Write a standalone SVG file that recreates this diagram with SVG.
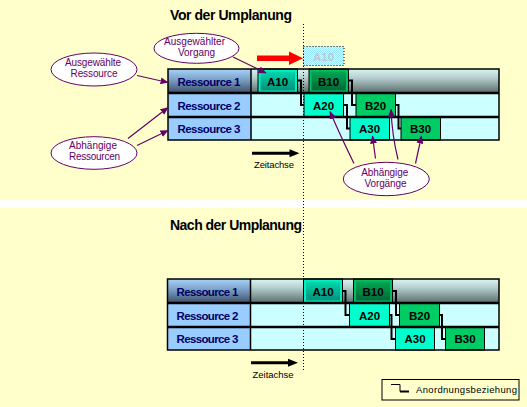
<svg xmlns="http://www.w3.org/2000/svg" width="527" height="407" viewBox="0 0 527 407">
<defs>
<linearGradient id="gRow1" x1="0" y1="0" x2="0" y2="1">
<stop offset="0" stop-color="#D6F6F2"/>
<stop offset="0.35" stop-color="#B8D0D0"/>
<stop offset="1" stop-color="#5A6C6C"/>
</linearGradient>
<linearGradient id="gLab1" x1="0" y1="0" x2="0" y2="1">
<stop offset="0" stop-color="#A6D2FA"/>
<stop offset="0.4" stop-color="#7FA6CC"/>
<stop offset="1" stop-color="#3E4E68"/>
</linearGradient>
<linearGradient id="gA1" x1="0" y1="0" x2="0" y2="1">
<stop offset="0" stop-color="#00D8AC"/>
<stop offset="1" stop-color="#00907A"/>
</linearGradient>
<linearGradient id="gB1" x1="0" y1="0" x2="0" y2="1">
<stop offset="0" stop-color="#00A855"/>
<stop offset="1" stop-color="#006638"/>
</linearGradient>
<pattern id="dither" width="2" height="2" patternUnits="userSpaceOnUse">
<rect width="2" height="2" fill="#CCFFFF"/>
<rect width="1" height="1" fill="#99E6FF"/>
<rect x="1" y="1" width="1" height="1" fill="#99E6FF"/>
</pattern>
<marker id="pa" markerWidth="8" markerHeight="7" refX="7.5" refY="3.5" orient="auto" markerUnits="userSpaceOnUse">
<path d="M0,0 L8,3.5 L0,7 z" fill="#660066"/>
</marker>
</defs>
<style>
text{font-family:"Liberation Sans",Arial,sans-serif}
.title{font-size:14px;font-weight:bold;fill:#000}
.res{font-size:11.5px;font-weight:bold;fill:#000066;text-anchor:middle}
.task{font-size:11.5px;font-weight:bold;fill:#000;text-anchor:middle}
.call{font-size:10px;fill:#660066;text-anchor:middle}
.small{font-size:9.5px;fill:#000}
.cell{stroke:#000;stroke-width:1}
.a{fill:#00FFCC}
.b{fill:#00CC66}
.sep{stroke:#000;stroke-width:2.5}
.ell{fill:#fff;stroke:#660066;stroke-width:1}
.step{fill:none;stroke:#000;stroke-width:2}
.pl{fill:none;stroke:#660066;stroke-width:1.2;marker-end:url(#pa)}
</style>
<rect width="527" height="407" fill="#FFFFCC"/>
<rect x="0" y="200" width="527" height="8" fill="#FFFFFF"/>

<g id="title-vor"><text class="title" x="170" y="20" textLength="122" lengthAdjust="spacing">Vor der Umplanung</text></g>
<g id="title-nach"><text class="title" x="170" y="229.5" textLength="132" lengthAdjust="spacing">Nach der Umplanung</text></g>

<!-- TOP TABLE -->
<g id="top-table">
<rect x="251" y="69" width="248" height="24" fill="url(#gRow1)"/>
<rect x="251" y="93" width="248" height="24" fill="#CCFFFF"/>
<rect x="251" y="117" width="248" height="23" fill="#CCFFFF"/>
<rect x="168" y="69" width="83" height="24" fill="url(#gLab1)"/>
<rect x="168" y="93" width="83" height="24" fill="#99CCFF"/>
<rect x="168" y="117" width="83" height="23" fill="#99CCFF"/>
<line x1="251" y1="69" x2="251" y2="140" stroke="#000" stroke-width="1.5"/>
</g>
<g id="top-res1"><text class="res" x="209" y="85.5" textLength="63" lengthAdjust="spacing">Ressource 1</text></g>
<g id="top-res2"><text class="res" x="209" y="109.5" textLength="63" lengthAdjust="spacing">Ressource 2</text></g>
<g id="top-res3"><text class="res" x="209" y="133" textLength="63" lengthAdjust="spacing">Ressource 3</text></g>

<g id="top-A10"><rect class="cell" x="258" y="69" width="39.5" height="24" fill="#00F0C4"/><rect x="260.5" y="71.5" width="34.5" height="19" fill="url(#gA1)"/><text class="task" x="277.5" y="85.5">A10</text></g>
<g id="top-B10"><rect class="cell" x="309" y="69" width="39.5" height="24" fill="#00C060"/><rect x="311.5" y="71.5" width="34.5" height="19" fill="url(#gB1)"/><text class="task" x="328.5" y="85.5">B10</text></g>
<g id="top-A20"><rect class="cell a" x="304" y="93" width="39.5" height="24"/><text class="task" x="323.5" y="109.5">A20</text></g>
<g id="top-B20"><rect class="cell b" x="356" y="93" width="39.5" height="24"/><text class="task" x="375.5" y="109.5">B20</text></g>
<g id="top-A30"><rect class="cell a" x="350" y="117" width="39.5" height="23"/><text class="task" x="369.5" y="133">A30</text></g>
<g id="top-B30"><rect class="cell b" x="401" y="117" width="39.5" height="23"/><text class="task" x="420.5" y="133">B30</text></g>

<g id="top-grid">
<rect x="168" y="69" width="331" height="71" fill="none" stroke="#000" stroke-width="1.5"/>
<line class="sep" x1="168" y1="93" x2="499" y2="93"/>
<line class="sep" x1="168" y1="117" x2="499" y2="117"/>
</g>

<g id="ghost-A10">
<rect x="303.5" y="46.5" width="40.5" height="19" fill="url(#dither)" stroke="#000" stroke-width="1" stroke-dasharray="1,2"/>
<text class="task" x="323.5" y="60.5" style="fill:#BCC8CC">A10</text>
</g>

<!-- BOTTOM TABLE -->
<g id="bot-table">
<rect x="250.5" y="279" width="248.5" height="24" fill="url(#gRow1)"/>
<rect x="250.5" y="303" width="248.5" height="24" fill="#CCFFFF"/>
<rect x="250.5" y="327" width="248.5" height="23" fill="#CCFFFF"/>
<rect x="167.5" y="279" width="83" height="24" fill="url(#gLab1)"/>
<rect x="167.5" y="303" width="83" height="24" fill="#99CCFF"/>
<rect x="167.5" y="327" width="83" height="23" fill="#99CCFF"/>
<line x1="250.5" y1="279" x2="250.5" y2="350" stroke="#000" stroke-width="1.5"/>
</g>
<g id="bot-res1"><text class="res" x="207.5" y="295.5" textLength="62" lengthAdjust="spacing">Ressource 1</text></g>
<g id="bot-res2"><text class="res" x="207.5" y="319.5" textLength="62" lengthAdjust="spacing">Ressource 2</text></g>
<g id="bot-res3"><text class="res" x="207.5" y="343" textLength="62" lengthAdjust="spacing">Ressource 3</text></g>

<g id="bot-A10"><rect class="cell" x="303.5" y="279" width="39" height="24" fill="#00F0C4"/><rect x="306" y="281.5" width="34" height="19" fill="url(#gA1)"/><text class="task" x="323" y="295.5">A10</text></g>
<g id="bot-B10"><rect class="cell" x="353.5" y="279" width="39" height="24" fill="#00C060"/><rect x="356" y="281.5" width="34" height="19" fill="url(#gB1)"/><text class="task" x="373" y="295.5">B10</text></g>
<g id="bot-A20"><rect class="cell a" x="349.5" y="303" width="40" height="24"/><text class="task" x="369.5" y="319.5">A20</text></g>
<g id="bot-B20"><rect class="cell b" x="399.5" y="303" width="40" height="24"/><text class="task" x="419.5" y="319.5">B20</text></g>
<g id="bot-A30"><rect class="cell a" x="395.5" y="327" width="39" height="23"/><text class="task" x="415" y="343">A30</text></g>
<g id="bot-B30"><rect class="cell b" x="445.5" y="327" width="39" height="23"/><text class="task" x="465" y="343">B30</text></g>

<g id="bot-grid">
<rect x="167.5" y="279" width="331.5" height="71" fill="none" stroke="#000" stroke-width="1.5"/>
<line class="sep" x1="167.5" y1="303" x2="499" y2="303"/>
<line class="sep" x1="167.5" y1="327" x2="499" y2="327"/>
</g>

<!-- callouts -->
<g id="callout-ressource">
<ellipse class="ell" cx="94" cy="69.5" rx="43" ry="16.5"/>
<text class="call" x="93" y="65.5" textLength="56" lengthAdjust="spacing">Ausgewählte</text>
<text class="call" x="94" y="77" textLength="47" lengthAdjust="spacing">Ressource</text>
</g>
<g id="callout-vorgang">
<ellipse class="ell" cx="196.5" cy="48.3" rx="42.5" ry="15"/>
<text class="call" x="194.5" y="45" textLength="61" lengthAdjust="spacing">Ausgewählter</text>
<text class="call" x="196.5" y="55.5" textLength="37" lengthAdjust="spacing">Vorgang</text>
</g>
<g id="callout-abh-res">
<ellipse class="ell" cx="94" cy="153" rx="43" ry="16.3"/>
<text class="call" x="93" y="148.5" textLength="48" lengthAdjust="spacing">Abhängige</text>
<text class="call" x="94.5" y="159.5" textLength="51" lengthAdjust="spacing">Ressourcen</text>
</g>
<g id="callout-abh-vorg">
<ellipse class="ell" cx="386.3" cy="179" rx="43" ry="16.7"/>
<text class="call" x="384.7" y="176" textLength="47" lengthAdjust="spacing">Abhängige</text>
<text class="call" x="385.5" y="186.5" textLength="42" lengthAdjust="spacing">Vorgänge</text>
</g>

<g id="legend">
<rect x="382" y="379.5" width="137" height="20.5" fill="#FFFFCC" stroke="#000" stroke-width="1"/>
<path d="M391,384.5 H400 V391.5 H409" fill="none" stroke="#000" stroke-width="1"/>
<line x1="400" y1="391.5" x2="409" y2="391.5" stroke="#000" stroke-width="2"/>
<text class="small" x="416" y="392.5" textLength="101" lengthAdjust="spacing">Anordnungsbeziehung</text>
</g>

<g id="axis-labels">
<text class="small" x="254" y="167.5" textLength="40" lengthAdjust="spacing">Zeitachse</text>
<text class="small" x="252.5" y="377.5" textLength="41" lengthAdjust="spacing">Zeitachse</text>
</g>

<g id="connectors">
<!-- step connectors top -->
<path class="step" d="M297.5,80.5 H301 V105 H304"/>
<path class="step" d="M348.5,80.5 H352 V105 H356"/>
<path class="step" d="M343.5,105 H347 V128.5 H350"/>
<path class="step" d="M395.5,105 H398.5 V128.5 H401"/>
<!-- step connectors bottom -->
<path class="step" d="M342.5,291 H345.5 V315 H349.5"/>
<path class="step" d="M392.5,291 H396 V315 H399.5"/>
<path class="step" d="M389.5,315 H391.5 V339 H395.5"/>
<path class="step" d="M439.5,315 H442 V339 H445.5"/>
<!-- callout arrows -->
<path class="pl" d="M137,75.5 L168,82.5"/>
<path class="pl" d="M233,57 L266,73"/>
<path class="pl" d="M128,138.5 L168,107.5"/>
<path class="pl" d="M137,145.5 L168,130.5"/>
<path class="pl" d="M354,163.5 Q340,135 330,111.5"/>
<path class="pl" d="M375.5,158.5 L372.5,136"/>
<path class="pl" d="M398,159.5 Q392,135 391,109.5"/>
<path class="pl" d="M415.5,163.5 L421.5,136"/>
<!-- red arrow -->
<rect x="257" y="55.5" width="33" height="5.5" fill="#FF0000"/>
<polygon points="289,51.5 303,58.3 289,65" fill="#FF0000"/>
<!-- time axis arrows -->
<line x1="252" y1="153.3" x2="291" y2="153.3" stroke="#000" stroke-width="3"/>
<polygon points="289.5,149.3 299.5,153.3 289.5,157.3" fill="#000"/>
<line x1="251" y1="362.7" x2="289" y2="362.7" stroke="#000" stroke-width="3"/>
<polygon points="288,358.7 298,362.7 288,366.7" fill="#000"/>
<!-- dotted time line -->
<line x1="303.5" y1="24" x2="303.5" y2="370" stroke="#000" stroke-width="1" stroke-dasharray="1,2"/>
</g>
</svg>
